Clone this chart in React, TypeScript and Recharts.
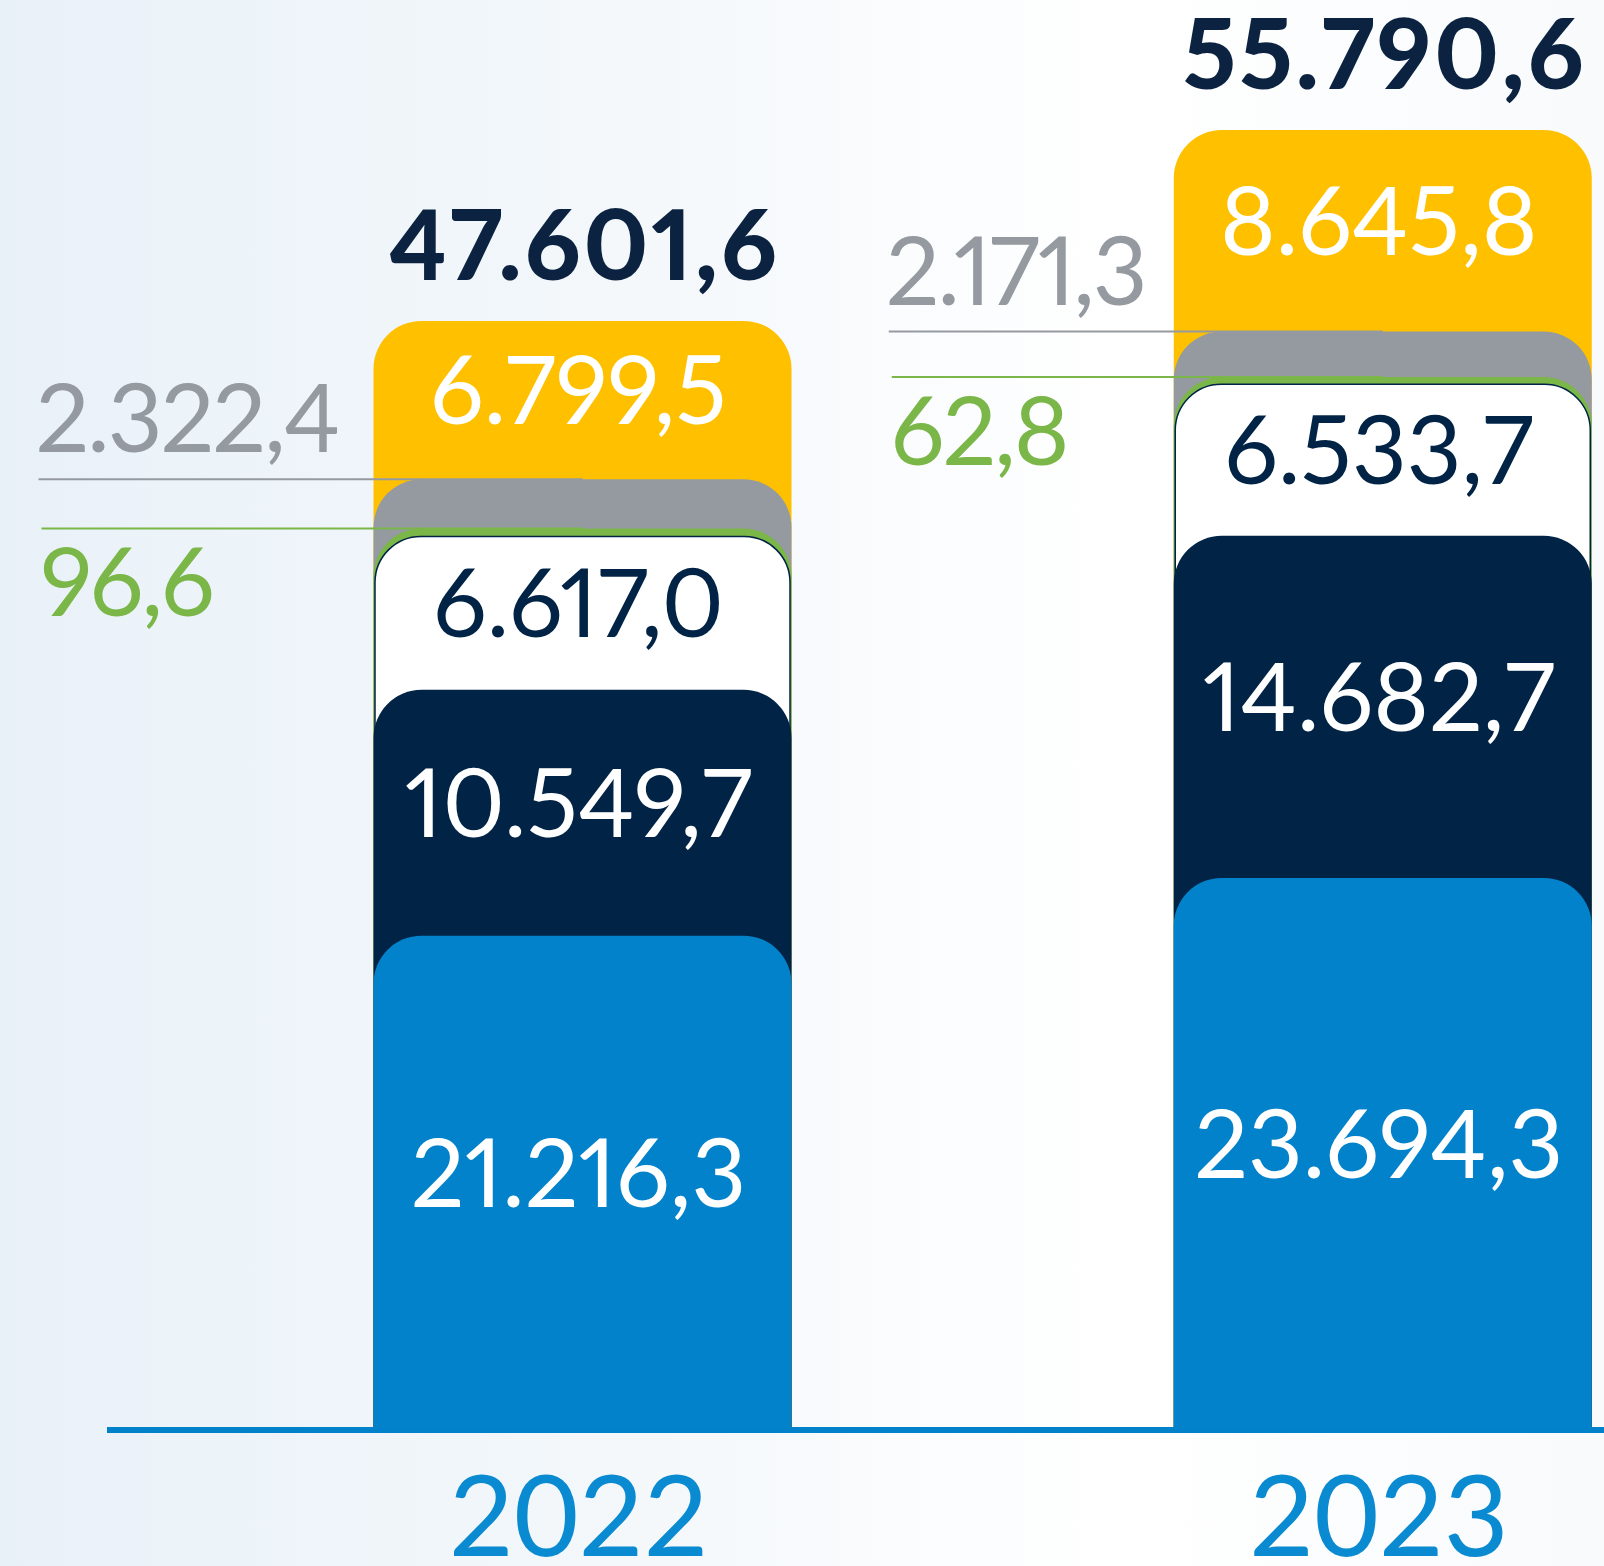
import { BarChart, Bar, XAxis, YAxis } from 'recharts';

const years = ['2022', '2023'];
const blueValues = [21216.3, 23694.3];
const navyValues = [10549.7, 14682.7];
const whiteValues = [6617.0, 6533.7];
const greenValues = [96.6, 62.8];
const grayValues = [2322.4, 2171.3];
const yellowValues = [6799.5, 8645.8];
const totals = [47601.6, 55790.6];

// layers listed top to bottom; each bar is drawn from its cumulative top to the axis
const layers = [
  { key: 'yellow', values: yellowValues, fill: '#FFC000', text: '#FFFFFF' },
  { key: 'gray', values: grayValues, fill: '#959AA1', side: 'above' },
  { key: 'green', values: greenValues, fill: '#7AB648', side: 'below' },
  { key: 'white', values: whiteValues, fill: '#FFFFFF', text: '#002346', stroke: '#002346' },
  { key: 'navy', values: navyValues, fill: '#002346', text: '#FFFFFF' },
  { key: 'blue', values: blueValues, fill: '#0282CA', text: '#FFFFFF' },
];

const data = years.map((year, i) => {
  const row: any = { year };
  layers.forEach((layer, li) => {
    row[layer.key] = layers.slice(li).reduce((s, l) => s + l.values[i], 0);
  });
  return row;
});

const FONT = 'Lato, sans-serif';
const BAR = 418;
const RADIUS = 48;
const sideOffset = [338, 288];
const numStyle = { fontVariantNumeric: 'proportional-nums' as const };

const fmt = (v: number) => {
  const [int, dec] = v.toFixed(1).split('.');
  return int.replace(/\B(?=(\d{3})+(?!\d))/g, '.') + ',' + dec;
};

const roundedTop = (x: number, y: number, w: number, h: number, r: number) => {
  const rr = Math.min(r, w / 2, h);
  return `M${x},${y + h} V${y + rr} A${rr},${rr} 0 0 1 ${x + rr},${y} H${x + w - rr} A${rr},${rr} 0 0 1 ${x + w},${y + rr} V${y + h} Z`;
};

function makeShape(li: number) {
  const layer = layers[li];
  return (props: any) => {
    const { x, y, width, height, index } = props;
    const cum = data[index][layer.key];
    const segH = (height * layer.values[index]) / cum;
    const cx = x + width / 2;
    const textX = x - sideOffset[index];
    let top = y;
    let h = height;
    if (layer.key === 'green') {
      top = y - 5;
      h = height + 5;
    }
    return (
      <g>
        {layer.side === 'above' && (
          <g>
            <line x1={textX + 3} x2={cx} y1={top} y2={top} stroke={layer.fill} strokeWidth={2} />
            <text x={textX} y={top - 27} fill={layer.fill} fontFamily={FONT} fontSize={95} letterSpacing={-2} style={numStyle}>
              {fmt(layer.values[index])}
            </text>
          </g>
        )}
        {layer.side === 'below' && (
          <g>
            <line x1={textX + 6} x2={cx} y1={top} y2={top} stroke={layer.fill} strokeWidth={2} />
            <text x={textX + 5} y={top + 88} fill={layer.fill} fontFamily={FONT} fontSize={95} letterSpacing={-2} style={numStyle}>
              {fmt(layer.values[index])}
            </text>
          </g>
        )}
        {layer.stroke ? (
          <path d={roundedTop(x + 1.5, top + 0.75, width - 3, h, RADIUS - 2)} fill={layer.fill} stroke={layer.stroke} strokeWidth={1.5} />
        ) : (
          <path d={roundedTop(x, top, width, h, RADIUS)} fill={layer.fill} />
        )}
        {layer.text && (
          <text x={cx - 4} y={y + segH / 2 + 24} textAnchor="middle" fill={layer.text} fontFamily={FONT} fontSize={95} style={numStyle}>
            {fmt(layer.values[index])}
          </text>
        )}
        {layer.key === 'yellow' && (
          <text x={cx + 2} y={y - 41} textAnchor="middle" fill="#0B2341" fontFamily={FONT} fontWeight={900} fontSize={97} letterSpacing={3} style={numStyle}>
            {fmt(totals[index])}
          </text>
        )}
      </g>
    );
  };
}

const YearTick = (props: any) => {
  const { x, y, payload } = props;
  return (
    <text x={x - 4} y={y + 126} textAnchor="middle" fill="#0A8AD0" fontFamily={FONT} fontSize={112}>
      {payload.value}
    </text>
  );
};

export default function App() {
  return (
    <div
      style={{
        position: 'absolute',
        left: 0,
        top: 0,
        width: 1604,
        height: 1566,
        overflow: 'hidden',
        background: 'linear-gradient(90deg, #E9F1F8 0%, #F4F8FB 40%, #FFFFFF 70%, #F8FAFC 100%)',
      }}
    >
      <BarChart
        width={1783}
        height={1566}
        data={data}
        barGap={-BAR}
        margin={{ top: 32, right: 0, bottom: 0, left: 107 }}
      >
        <YAxis hide domain={[0, 60000]} />
        <XAxis
          dataKey="year"
          padding={{ left: 75.5, right: 0 }}
          axisLine={{ stroke: '#0281CB', strokeWidth: 6 }}
          tickLine={false}
          tickSize={0}
          tickMargin={0}
          height={136}
          interval={0}
          tick={<YearTick />}
        />
        {layers.map((layer, li) => (
          <Bar
            key={layer.key}
            dataKey={layer.key}
            barSize={BAR}
            fill={layer.fill}
            shape={makeShape(li)}
            isAnimationActive={false}
          />
        ))}
      </BarChart>
    </div>
  );
}
